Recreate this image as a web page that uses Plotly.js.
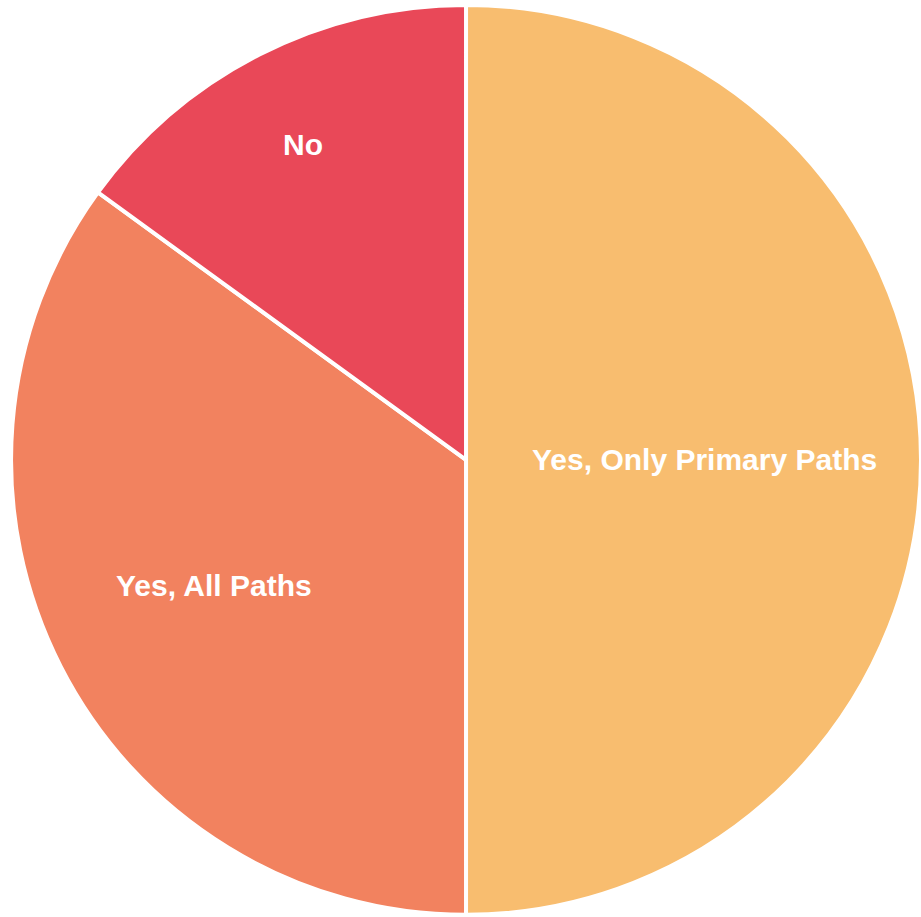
<!DOCTYPE html>
<html><head><meta charset="utf-8">
<script src="https://cdn.plot.ly/plotly-3.0.1.min.js"></script>
<style>html,body{margin:0;padding:0;background:#fff;}</style>
</head><body>
<div id="chart" style="width:921px;height:917px;"></div>
<script>
const labels = ["Yes, Only Primary Paths", "Yes, All Paths", "No"];
const values = [50, 35, 15];
const colors = ["#F8BD6F", "#F2825F", "#E94858"];
// label anchor positions in paper fraction (layout only)
const labelX = [0.7644, 0.2324, 0.329];
const labelY = [0.4984, 0.3620, 0.8419];

const fontSpec = {family: "Liberation Sans, Arial, sans-serif", size: 30, color: "#ffffff", weight: "bold"};

Plotly.newPlot("chart", [{
  type: "pie",
  labels: labels,
  values: values,
  sort: false,
  direction: "clockwise",
  rotation: 0,
  marker: {colors: colors, line: {color: "#ffffff", width: 4}},
  textinfo: "none",
  hoverinfo: "none",
  domain: {x: [0.012, 1], y: [0, 0.997]}
}], {
  width: 921, height: 917,
  margin: {l: 0, r: 0, t: 0, b: 0},
  showlegend: false,
  paper_bgcolor: "#ffffff",
  annotations: labels.map((t, i) => ({
    text: "<b>" + t + "</b>", x: labelX[i], y: labelY[i], xref: "paper", yref: "paper",
    xanchor: "center", yanchor: "middle", showarrow: false, font: fontSpec
  }))
}, {displayModeBar: false, staticPlot: true});
</script>
</body></html>
